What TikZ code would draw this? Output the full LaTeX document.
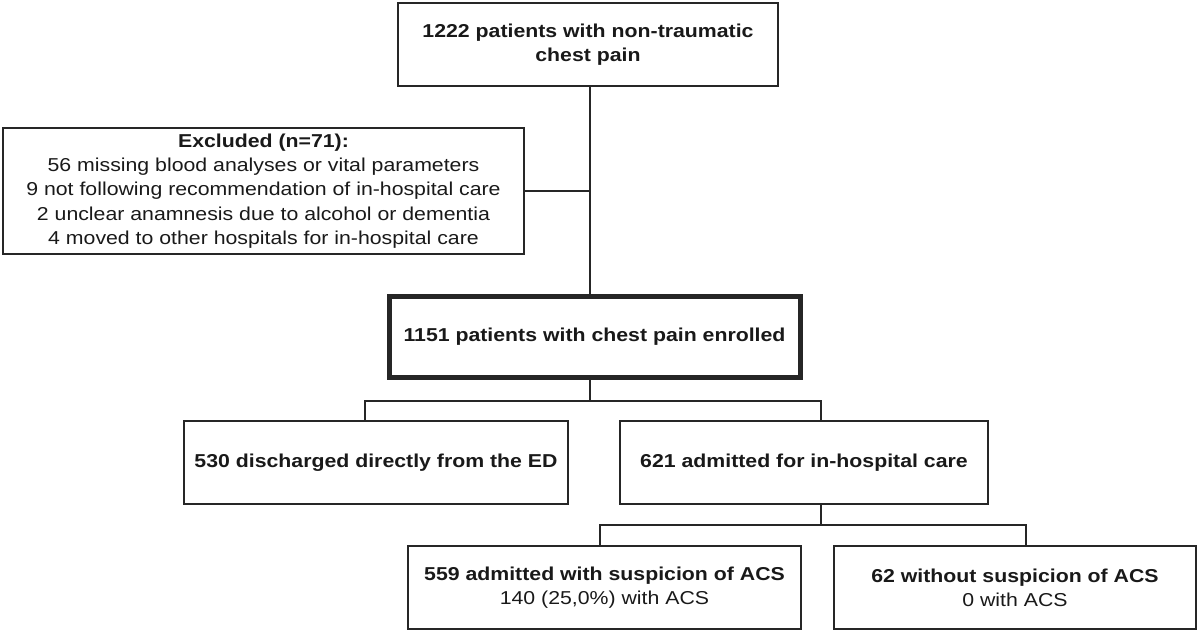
\documentclass[tikz,border=0pt]{standalone}
\usepackage{fontspec}
\setmainfont[FakeStretch=1.14]{Liberation Sans}
\begin{document}
\begin{tikzpicture}[x=0.75pt,y=-0.75pt,
  box/.style={draw=black!85, line width=1.1pt, inner sep=0pt, align=center,
    text=black!90, font=\fontsize{14}{18.2}\selectfont, minimum height=62.25pt},
  thickbox/.style={box, line width=3.75pt},
  link/.style={draw=black!85, line width=1.1pt}]
\useasboundingbox (0,0) rectangle (1200,633);
\node[box, minimum width=285pt] (top) at (588,44.5)
  {\bfseries 1222 patients with non-traumatic\\\bfseries chest pain};
\node[box, minimum width=390.75pt, minimum height=94.5pt] (excl) at (263.5,191)
  {\bfseries Excluded (n=71):\\
   56 missing blood analyses or vital parameters\\
   9 not following recommendation of in-hospital care\\
   2 unclear anamnesis due to alcohol or dementia\\
   4 moved to other hospitals for in-hospital care};
\node[thickbox, minimum width=308.25pt, minimum height=60.75pt] (enr) at (594.5,336.5)
  {\bfseries 1151 patients with chest pain enrolled};
\node[box, minimum width=288pt] (dis) at (376,462.5)
  {\bfseries 530 discharged directly from the ED};
\node[box, minimum width=276pt] (adm) at (804,462.5)
  {\bfseries 621 admitted for in-hospital care};
\node[box, minimum width=294.75pt] (sus) at (604.5,587.5)
  {\bfseries 559 admitted with suspicion of ACS\\140 (25,0\%) with ACS};
\node[box, minimum width=271.5pt] (nos) at (1015,587.5)
  {\bfseries 62 without suspicion of ACS\\0 with ACS};
% main trunk
\coordinate (trunk) at (590,0);
\draw[link] (trunk |- top.south) -- (trunk |- enr.north);
\draw[link] (excl.east) -- (excl.east -| trunk);
% level 2
\coordinate (b1) at (590,401);
\coordinate (b1l) at (365,401);
\coordinate (b1r) at (821,401);
\draw[link] (b1 |- enr.south) -- (b1);
\draw[link] (b1l |- dis.north) -- (b1l) -- (b1r) -- (b1r |- adm.north);
% level 3
\coordinate (b2) at (821,525);
\coordinate (b2l) at (600,525);
\coordinate (b2r) at (1026,525);
\draw[link] (b2 |- adm.south) -- (b2);
\draw[link] (b2l |- sus.north) -- (b2l) -- (b2r) -- (b2r |- nos.north);
\end{tikzpicture}
\end{document}
